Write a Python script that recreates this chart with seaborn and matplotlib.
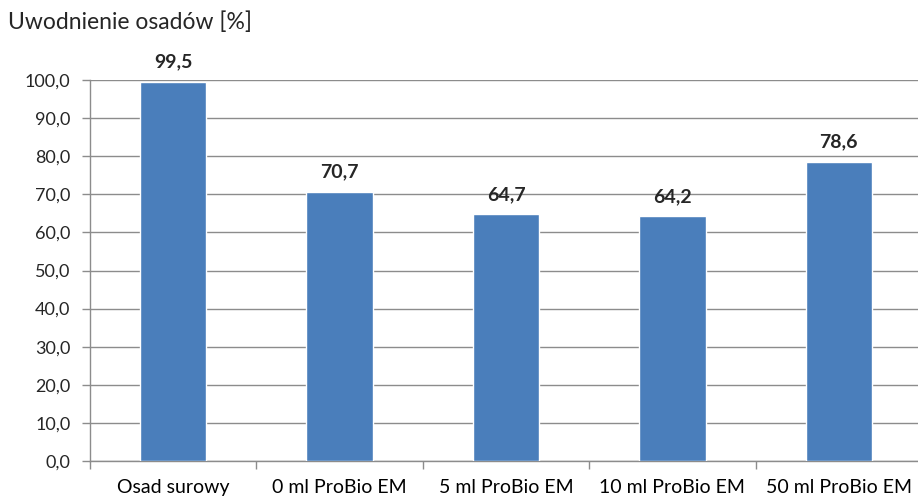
import numpy as np
import pandas as pd
import matplotlib.pyplot as plt
from matplotlib.ticker import FixedLocator, FuncFormatter
import seaborn as sns

# data
categories = ['Osad surowy', '0 ml ProBio EM', '5 ml ProBio EM', '10 ml ProBio EM', '50 ml ProBio EM']
values = [99.5, 70.7, 64.7, 64.2, 78.6]

df = pd.DataFrame({'Probka': categories, 'Uwodnienie': values})

sns.set_style('white')
plt.rcParams['font.family'] = ['Lato', 'DejaVu Sans']

fig = plt.figure(figsize=(9.18, 5), dpi=100)
ax = fig.add_axes([90 / 918, 1 - 461 / 500, 832 / 918, 381 / 500])

sns.barplot(data=df, x='Probka', y='Uwodnienie', color='#4a7ebb', width=0.4,
            saturation=1, ax=ax, zorder=3)

ax.set_ylim(0, 100)
ax.set_xlim(-0.5, len(categories) - 0.5)
ax.set_yticks(np.arange(0, 101, 10))
ax.yaxis.set_major_formatter(FuncFormatter(lambda v, p: f'{v:.1f}'.replace('.', ',')))
ax.grid(axis='y', color='#8c8c8c', linewidth=1, zorder=0)

# tick marks between categories, labels under the bars
ax.xaxis.set_minor_locator(FixedLocator(np.arange(-0.5, len(categories), 1)))
ax.tick_params(axis='x', which='major', length=0, pad=13, labelsize=14, colors='black')
ax.tick_params(axis='x', which='minor', length=6, width=1, color='#8c8c8c', direction='out', bottom=True)
ax.tick_params(axis='y', length=6, width=1, color='#8c8c8c', direction='out', left=True,
               labelsize=13, pad=8)

for s in ['top', 'right']:
    ax.spines[s].set_visible(False)
for s in ['left', 'bottom']:
    ax.spines[s].set_color('#8c8c8c')
    ax.spines[s].set_linewidth(1)

for i, v in enumerate(values):
    ax.text(i, v + 3, f'{v:.1f}'.replace('.', ','), ha='center', va='bottom',
            fontsize=14, fontweight='bold')

ax.set_xlabel('')
ax.set_ylabel('')
fig.text(8 / 918, 1 - 22 / 500, 'Uwodnienie osadów [%]', ha='left', va='center', fontsize=16.5)

fig.savefig('out.png', dpi=100)
